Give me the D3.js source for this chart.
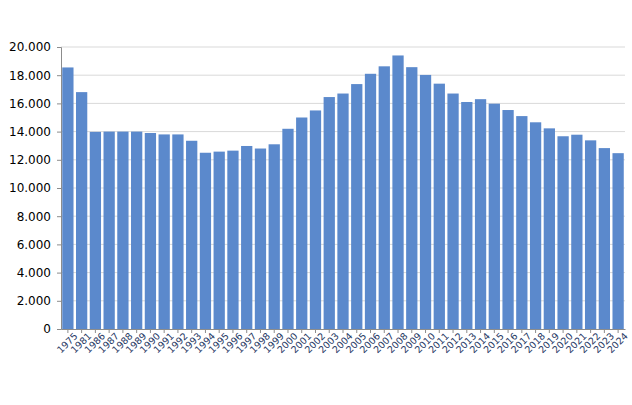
<!DOCTYPE html>
<html><head><meta charset="utf-8">
<script src="https://cdn.jsdelivr.net/npm/d3@7"></script>
<style>body{margin:0;background:#fff}</style>
</head><body><svg id="c"></svg>
<script>
const years = ['1975','1981','1986','1987','1988','1989','1990','1991','1992','1993','1994','1995','1996','1997','1998','1999','2000','2001','2002','2003','2004','2005','2006','2007','2008','2009','2010','2011','2012','2013','2014','2015','2016','2017','2018','2019','2020','2021','2022','2023','2024'];
const values = [18550,16800,13980,14000,14000,14000,13900,13800,13800,13350,12500,12580,12650,12980,12800,13100,14200,15000,15500,16450,16700,17370,18100,18630,19400,18570,18020,17400,16700,16100,16300,15980,15530,15100,14660,14230,13670,13780,13380,12830,12470];
const yTicks = [0,2000,4000,6000,8000,10000,12000,14000,16000,18000,20000];

const W = 632, H = 405, m = {l: 61, r: 7, t: 47, b: 76};
const svg = d3.select('#c').attr('width', W).attr('height', H);
const x = d3.scaleBand().domain(years).range([m.l, W - m.r]).paddingInner(0.18).paddingOuter(0.09);
const y = d3.scaleLinear().domain([0, 20000]).range([H - m.b, m.t]);
const fmt = d => d3.format(',')(d).replace(/,/g, '.');

// gridlines
svg.append('g').selectAll('line').data(yTicks.filter(d => d > 0)).join('line')
  .attr('x1', m.l).attr('x2', W - m.r)
  .attr('y1', d => y(d)).attr('y2', d => y(d))
  .attr('stroke', '#d9d9d9');

// bars
svg.append('g').selectAll('rect').data(values).join('rect')
  .attr('x', (d, i) => x(years[i]))
  .attr('width', x.bandwidth())
  .attr('y', d => y(d))
  .attr('height', d => y(0) - y(d))
  .attr('fill', '#5b89cc');

// y axis
const ya = svg.append('g').attr('transform', `translate(${m.l},0)`)
  .call(d3.axisLeft(y).tickValues(yTicks).tickFormat(fmt).tickSize(4).tickPadding(6));
ya.select('.domain').attr('stroke', '#8c8c8c');
ya.selectAll('.tick line').attr('stroke', '#8c8c8c');
ya.selectAll('text').attr('font-family', 'DejaVu Sans, Verdana, sans-serif').attr('font-size', 12).attr('fill', '#000');

// x axis
const xa = svg.append('g').attr('transform', `translate(0,${y(0)})`)
  .call(d3.axisBottom(x).tickSize(4).tickSizeOuter(0));
xa.select('.domain').attr('stroke', '#8c8c8c');
xa.selectAll('.tick line').attr('stroke', '#8c8c8c');
xa.selectAll('text')
  .attr('font-family', 'DejaVu Sans, Verdana, sans-serif').attr('font-size', 9.5).attr('fill', '#1f3864')
  .attr('text-anchor', 'end').attr('dx', '0.2em').attr('dy', '0.6em')
  .attr('transform', 'rotate(-45)');
</script></body></html>
